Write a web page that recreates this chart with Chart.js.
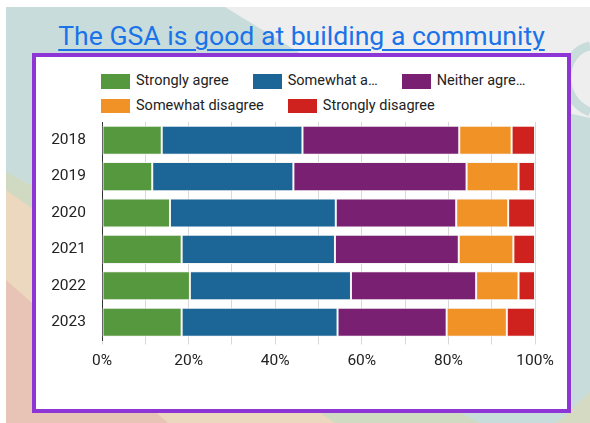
<!DOCTYPE html>
<html>
<head>
<meta charset="utf-8">
<script src="https://cdn.jsdelivr.net/npm/chart.js@4/dist/chart.umd.min.js"></script>
<style>
  html, body { margin: 0; padding: 0; background: #fff; }
  #page { position: relative; width: 590px; height: 423px; overflow: hidden; font-family: Roboto, "Noto Sans", sans-serif; }
  #bg { position: absolute; left: 0; top: 0; }
  #title {
    position: absolute; left: 32px; width: 539px; top: 20px;
    text-align: center; font-size: 26.6px; line-height: 31px;
    color: #1a73e8; text-decoration: underline; text-decoration-thickness: 1.8px; text-underline-offset: 4px;
  }
  #frame {
    position: absolute; left: 32px; top: 53px; width: 539px; height: 360px;
    box-sizing: border-box; border: 4px solid #8e35d6; background: #fff;
  }
  #chart { position: absolute; left: 36px; top: 57px; }
  #legend {
    position: absolute; left: 101px; top: 74px; width: 440px;
    display: flex; flex-wrap: wrap; column-gap: 24px; row-gap: 10.3px;
    font-size: 14.5px; line-height: 14.5px; color: #222;
  }
  .item { display: flex; align-items: center; white-space: nowrap; }
  .swatch { width: 29px; height: 14.5px; margin-right: 6px; }
</style>
</head>
<body>
<div id="page">
  <svg id="bg" width="590" height="423">
    <rect x="6" y="7" width="584" height="416" fill="#c8dddb"/>
    <polygon points="225,7 590,7 590,118 300,53" fill="#eeeeee"/>
    <path d="M590,46 C560,52 558,100 590,112" fill="none" stroke="#c8dddb" stroke-width="9"/>
    <polygon points="6,172 480,423 6,423" fill="#d0dac3"/>
    <polygon points="6,190 335,423 6,423" fill="#ebd8be"/>
    <polygon points="6,280 168,423 6,423" fill="#e7c4b5"/>
    <polygon points="556,423 590,392 590,423" fill="#d5dbc3"/>
  </svg>
  <div id="title">The GSA is good at building a community</div>
  <div id="frame"></div>
  <div id="legend"></div>
  <canvas id="chart" width="531" height="352"></canvas>
</div>
<script>
// survey answers per year, share of respondents in percent
const years = ['2018', '2019', '2020', '2021', '2022', '2023'];
const seriesNames = ['Strongly agree', 'Somewhat agree', 'Neither agree nor disagree', 'Somewhat disagree', 'Strongly disagree'];
const legendText = ['Strongly agree', 'Somewhat a…', 'Neither agre…', 'Somewhat disagree', 'Strongly disagree'];
const stronglyAgree    = [13.8, 11.6, 15.7, 18.4, 20.3, 18.4];
const somewhatAgree    = [32.5, 32.6, 38.3, 35.4, 37.2, 36.0];
const neither          = [36.2, 40.0, 27.8, 28.6, 28.9, 25.2];
const somewhatDisagree = [12.1, 12.0, 12.0, 12.6,  9.8, 13.9];
const stronglyDisagree = [ 5.4,  3.8,  6.2,  5.0,  3.8,  6.5];
const colors = ['#56983d', '#1b6597', '#7a2072', '#f19226', '#cf221e'];

const series = [stronglyAgree, somewhatAgree, neither, somewhatDisagree, stronglyDisagree];

// legend in two rows, built from the same names and colours
const legend = document.getElementById('legend');
legendText.forEach((txt, i) => {
  const item = document.createElement('div');
  item.className = 'item';
  const sw = document.createElement('span');
  sw.className = 'swatch';
  sw.style.background = colors[i];
  item.appendChild(sw);
  item.appendChild(document.createTextNode(txt));
  legend.appendChild(item);
});

const ctx = document.getElementById('chart');

new Chart(ctx, {
  type: 'bar',
  data: {
    labels: years,
    datasets: series.map((data, i) => ({
      label: seriesNames[i],
      data: data,
      backgroundColor: colors[i],
      borderColor: '#f4f4f4',
      borderWidth: 1,
      borderSkipped: false,
      barPercentage: 0.8,
      categoryPercentage: 1
    }))
  },
  options: {
    indexAxis: 'y',
    responsive: false,
    maintainAspectRatio: false,
    devicePixelRatio: 1,
    animation: false,
    layout: { padding: { top: 65, right: 32, bottom: 28.6, left: 0 } },
    plugins: {
      legend: { display: false },
      tooltip: { enabled: false }
    },
    scales: {
      x: {
        stacked: true,
        min: 0,
        max: 100,
        afterFit: s => { s.height = 40; },
        ticks: {
          stepSize: 10,
          padding: 7,
          color: '#222',
          font: { family: 'Roboto', size: 15.5 },
          maxRotation: 0,
          callback: v => (v % 20 === 0 ? v + '%' : '')
        },
        grid: { color: '#d8d8d8', lineWidth: 1, drawTicks: true, tickLength: 4 },
        border: { display: false }
      },
      y: {
        stacked: true,
        afterFit: s => { s.width = 66; },
        ticks: {
          padding: 16,
          color: '#222',
          font: { family: 'Roboto', size: 15.5 }
        },
        grid: { display: false, drawTicks: false },
        border: { display: true, color: '#333', width: 1 }
      }
    }
  }
});
</script>
</body>
</html>
